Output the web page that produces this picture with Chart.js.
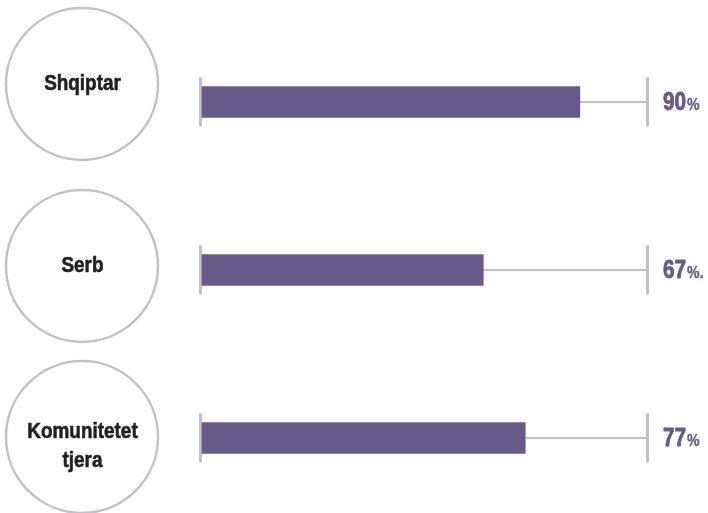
<!DOCTYPE html>
<html>
<head>
<meta charset="utf-8">
<script src="https://cdn.jsdelivr.net/npm/chart.js@4/dist/chart.umd.min.js"></script>
<style>
  html, body { margin: 0; padding: 0; background: #ffffff; }
  #wrap { width: 708px; height: 513px; }
</style>
</head>
<body>
<div id="wrap"><canvas id="c" width="708" height="513"></canvas></div>
<script>
// ---- data ----
const categories = ['Shqiptar', 'Serb', 'Komunitetet tjera'];
const categoryLines = [['Shqiptar'], ['Serb'], ['Komunitetet', 'tjera']];
const values = [90, 67, 77];
const valueSuffixes = ['%', '%.', '%'];

// ---- styles ----
const BAR_COLOR = '#685a8b';
const GREY = '#c2c2c6';
const TEXT_DARK = '#231f20';
const FONT = '"Liberation Sans", Arial, Helvetica, sans-serif';

// draw condensed, slightly heavier text (horizontal squeeze + thin outline)
function condensedText(ctx, txt, x, y, sx, align, weight) {
  ctx.save();
  ctx.translate(x, y);
  ctx.scale(sx, 1);
  ctx.textAlign = align;
  ctx.fillText(txt, 0, 0);
  if (weight) {
    ctx.strokeStyle = ctx.fillStyle;
    ctx.lineWidth = weight;
    ctx.lineJoin = 'round';
    ctx.strokeText(txt, 0, 0);
  }
  ctx.restore();
}

const decorPlugin = {
  id: 'decor',
  beforeDatasetsDraw(chart) {
    const ctx = chart.ctx;
    const xs = chart.scales.x, ys = chart.scales.y;
    const meta = chart.getDatasetMeta(0);
    ctx.save();
    meta.data.forEach((bar, i) => {
      const y = ys.getPixelForValue(i);
      ctx.strokeStyle = GREY;
      ctx.lineWidth = 2;
      ctx.beginPath();
      ctx.moveTo(bar.x, y);
      ctx.lineTo(xs.right, y);
      ctx.stroke();
      ctx.lineWidth = 3;
      ctx.beginPath();
      ctx.moveTo(xs.left - 1.5, y - 24.5);
      ctx.lineTo(xs.left - 1.5, y + 24.5);
      ctx.moveTo(xs.right + 0.5, y - 24.5);
      ctx.lineTo(xs.right + 0.5, y + 24.5);
      ctx.stroke();
    });
    ctx.restore();
  },
  afterDatasetsDraw(chart, args, opts) {
    const ctx = chart.ctx;
    const xs = chart.scales.x, ys = chart.scales.y;
    const shifts = opts.circleShift;
    ctx.save();
    categories.forEach((c, i) => {
      const y = ys.getPixelForValue(i);
      const cy = y + shifts[i];
      // circle
      ctx.strokeStyle = GREY;
      ctx.lineWidth = 2.5;
      ctx.beginPath();
      ctx.arc(opts.circleX, cy, opts.circleR, 0, Math.PI * 2);
      ctx.stroke();
      // circle label
      ctx.fillStyle = TEXT_DARK;
      ctx.font = 'bold 22px ' + FONT;
      ctx.textBaseline = 'alphabetic';
      const lines = categoryLines[i];
      const lh = 29;
      const firstBase = lines.length > 1 ? cy + 1 : cy + 6;
      lines.forEach((ln, k) => condensedText(ctx, ln, opts.circleX + 0.5, firstBase + k * lh, 0.86, 'center', 0.6));
      // value label
      ctx.fillStyle = BAR_COLOR;
      const base = y + 7.5;
      const num = String(values[i]);
      const tx = xs.right + 16;
      ctx.font = 'bold 25px ' + FONT;
      const w = ctx.measureText(num).width * 0.83;
      condensedText(ctx, num, tx, base, 0.83, 'left', 0.9);
      ctx.font = 'bold 17px ' + FONT;
      condensedText(ctx, valueSuffixes[i], tx + w + 1, base, 0.83, 'left', 0.4);
    });
    ctx.restore();
  }
};

new Chart(document.getElementById('c'), {
  type: 'bar',
  data: {
    labels: categories,
    datasets: [{
      data: values,
      backgroundColor: BAR_COLOR,
      borderWidth: 0,
      barThickness: 31,
      clip: false
    }]
  },
  options: {
    indexAxis: 'y',
    responsive: false,
    animation: false,
    events: [],
    layout: { padding: { left: 202, right: 61, top: 102, bottom: 75 } },
    scales: {
      x: { display: false, min: 0, max: 106 },
      y: { display: false, offset: false }
    },
    plugins: {
      legend: { display: false },
      tooltip: { enabled: false },
      decor: { circleX: 82, circleR: 76, circleShift: [-18, -4, -1] }
    }
  },
  plugins: [decorPlugin]
});
</script>
</body>
</html>
